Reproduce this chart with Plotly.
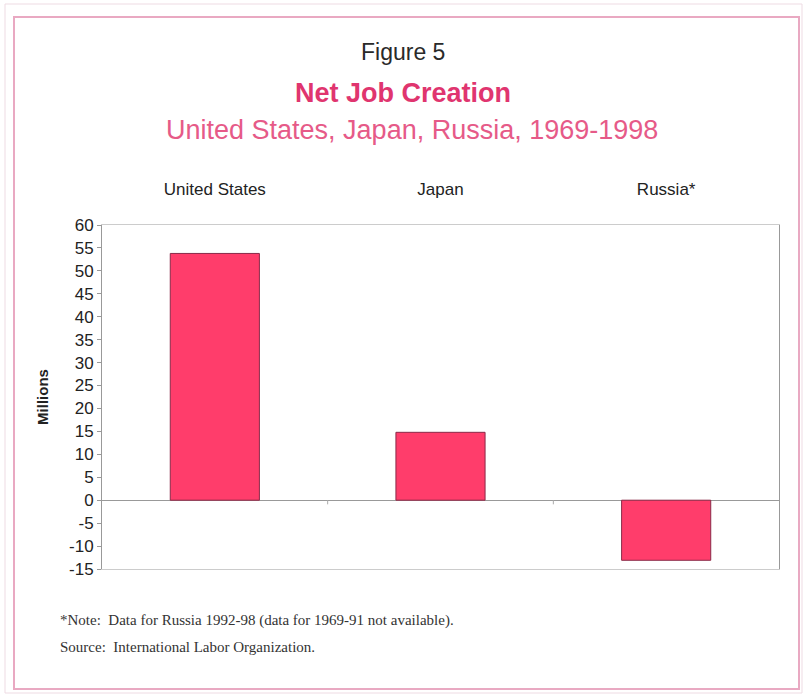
import plotly.graph_objects as go

# Net job creation, millions of jobs
countries = ["United States", "Japan", "Russia*"]
net_jobs = [53.8, 14.8, -13.1]
y_ticks = [60, 55, 50, 45, 40, 35, 30, 25, 20, 15, 10, 5, 0, -5, -10, -15]

PINK = "#e0356f"
PINK_LIGHT = "#e65a88"
BAR = "#ff3d6b"
SANS = "Liberation Sans, Arial, sans-serif"
SERIF = "Liberation Serif, Times New Roman, serif"

W, H = 803, 694
ML, MR, MT, MB = 102, 24, 225, 125
plot_w, plot_h = W - ML - MR, H - MT - MB


def xpaper(px):
    return (px - ML) / plot_w


def ypaper(py):
    return (MT + plot_h - py) / plot_h


fig = go.Figure()
fig.add_trace(go.Bar(
    x=countries,
    y=net_jobs,
    marker=dict(color=BAR, line=dict(color="#8a2a48", width=1)),
    hoverinfo="x+y",
))

# small separators between categories along the zero line
for i in range(len(countries) - 1):
    fig.add_shape(type="line", xref="x", yref="y",
                  x0=i + 0.5, x1=i + 0.5, y0=0, y1=-0.9,
                  line=dict(color="#aaaaaa", width=1))

fig.update_layout(
    width=W, height=H,
    margin=dict(l=ML, r=MR, t=MT, b=MB),
    paper_bgcolor="white", plot_bgcolor="white",
    showlegend=False,
    bargap=0.605,
    font=dict(family=SANS, color="#222222"),
)

fig.update_xaxes(
    side="top", type="category",
    showline=True, linecolor="#cccccc", linewidth=1, mirror=True,
    ticks="", showgrid=False, zeroline=False,
    ticklabelstandoff=22,
    tickfont=dict(family=SANS, size=17, color="#222222"),
)
fig.update_yaxes(
    range=[-15, 60], tickvals=y_ticks, ticktext=[str(v) for v in y_ticks],
    showline=True, linecolor="#999999", linewidth=1, mirror=True,
    ticks="outside", ticklen=4, tickcolor="#999999",
    showgrid=False,
    zeroline=True, zerolinecolor="#999999", zerolinewidth=1,
    tickfont=dict(family=SANS, size=17, color="#222222"),
    title=dict(text="<b>Millions</b>", font=dict(family=SANS, size=15, color="#222222"),
               standoff=16),
)

titles = [
    ("Figure 5", 52, 23, "#2a2a2a", 403),
    ("<b>Net Job Creation</b>", 93, 27, PINK, 403),
    ("United States, Japan, Russia, 1969-1998", 130, 27, PINK_LIGHT, 412),
]
for text, py, size, color, px in titles:
    fig.add_annotation(xref="paper", yref="paper", x=xpaper(px),
                       y=ypaper(py), xanchor="center", yanchor="middle",
                       text=text, showarrow=False,
                       font=dict(family=SANS, size=size, color=color))

notes = [
    ("*Note:  Data for Russia 1992-98 (data for 1969-91 not available).", 620),
    ("Source:  International Labor Organization.", 647),
]
for text, py in notes:
    fig.add_annotation(xref="paper", yref="paper", x=xpaper(58), y=ypaper(py),
                       xanchor="left", yanchor="middle", text=text, showarrow=False,
                       font=dict(family=SERIF, size=15, color="#333333"))

# double frame around the figure
fig.add_shape(type="rect", xref="paper", yref="paper",
              x0=xpaper(5), x1=xpaper(802), y0=ypaper(693), y1=ypaper(4),
              line=dict(color="#eedbe3", width=1))
fig.add_shape(type="rect", xref="paper", yref="paper",
              x0=xpaper(14), x1=xpaper(799), y0=ypaper(689), y1=ypaper(17),
              line=dict(color="#e9a9c2", width=2))

fig.write_html("out.html")
